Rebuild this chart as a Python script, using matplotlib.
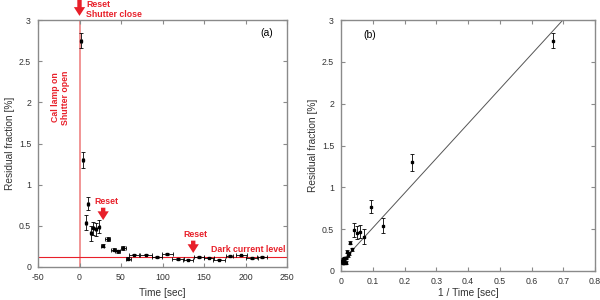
import matplotlib
matplotlib.use("Agg")
import matplotlib.pyplot as plt
import numpy as np

# ---- data (left panel: residual vs time) ----
time_s = [1.5, 4.5, 7.5, 10.6, 13.6, 16.7, 20, 24, 28, 34, 41, 46, 53, 59,
          66, 80, 93, 106, 119, 131, 144, 156, 168, 181, 195, 208, 220]
time_err = [1, 1, 1, 1, 1, 1, 1, 1, 2, 3, 3, 3, 3, 3,
            6, 7, 6, 7, 7, 6, 6, 6, 7, 4, 7, 7, 6]
resid = [2.75, 1.30, 0.54, 0.77, 0.41, 0.47, 0.46, 0.49, 0.26, 0.34, 0.21, 0.19, 0.23, 0.10,
         0.15, 0.15, 0.12, 0.16, 0.10, 0.09, 0.12, 0.115, 0.09, 0.13, 0.14, 0.11, 0.12]
resid_err = [0.09, 0.10, 0.09, 0.08, 0.09, 0.08, 0.08, 0.08, 0.02, 0.02, 0.02, 0.02, 0.02, 0.02,
             0.01, 0.01, 0.01, 0.01, 0.01, 0.01, 0.01, 0.01, 0.01, 0.01, 0.01, 0.01, 0.01]
dark_level = 0.12
fit_intercept = 0.10
fit_slope = 4.15

xticks_a = [-50, 0, 50, 100, 150, 200, 250]
yticks = [0, 0.5, 1, 1.5, 2, 2.5, 3]
yticklabels = ["0", "0.5", "1", "1.5", "2", "2.5", "3"]
xticks_b = [0, 0.1, 0.2, 0.3, 0.4, 0.5, 0.6, 0.7, 0.8]
xticklabels_b = ["0", "0.1", "0.2", "0.3", "0.4", "0.5", "0.6", "0.7", "0.8"]

plt.rcParams["font.family"] = ["Liberation Sans", "DejaVu Sans"]

RED = "#e8202a"
GRAY = "#8a8a8a"
TXT = "#333333"
RFS = 6.3  # red annotation font size

fig = plt.figure(figsize=(6, 3), dpi=100)
axa = fig.add_axes([38/600, 33/300, 249/600, 247/300])
axb = fig.add_axes([341/600, 29/300, 254/600, 251/300])

def style(ax):
    for s in ax.spines.values():
        s.set_color(GRAY)
        s.set_linewidth(1.0)
    ax.tick_params(direction="in", top=True, right=True, length=3, width=0.8,
                   color=GRAY, labelsize=6.3, labelcolor=TXT)
    ax.tick_params(axis="x", pad=4)
    ax.tick_params(axis="y", pad=5)

for ax in (axa, axb):
    style(ax)
    ax.set_ylim(0, 3)
    ax.set_yticks(yticks)
    ax.set_yticklabels(yticklabels)
    ax.set_ylabel("Residual fraction [%]", fontsize=7.3, color=TXT, labelpad=3)

ARW = dict(arrowstyle="simple,head_width=0.9,head_length=0.7,tail_width=0.35",
           color=RED, lw=0, mutation_scale=9, shrinkA=0, shrinkB=0)

# ---- panel (a) ----
axa.set_xlim(-50, 250)
axa.set_xticks(xticks_a)
axa.set_xticklabels([str(v) for v in xticks_a])
axa.set_xlabel("Time [sec]", fontsize=7.3, color=TXT, labelpad=5)
axa.axvline(0, color="#f08c8c", lw=1.3, zorder=1)
axa.axhline(dark_level, color=RED, lw=0.8, zorder=1)
axa.errorbar(time_s, resid, xerr=time_err, yerr=resid_err, fmt="s", ms=1.8,
             color="black", ecolor="black", elinewidth=0.6, capsize=1.5, capthick=0.6, zorder=3)
axa.text(226, 2.84, "(a)", fontsize=7.5, ha="center", va="center")

axa.annotate("", xy=(0, 3.05), xytext=(0, 3.245), arrowprops=ARW, annotation_clip=False)
axa.text(8, 3.245, "Reset\nShutter close", color=RED, fontsize=RFS, fontweight="bold",
         ha="left", va="top", linespacing=1.15, clip_on=False)
axa.text(-23, 2.06, "Cal lamp on\nShutter open", color=RED, fontsize=RFS, fontweight="bold",
         rotation=90, ha="center", va="center", linespacing=1.2)

axa.annotate("", xy=(28.5, 0.57), xytext=(28.5, 0.72), arrowprops=ARW)
axa.text(18, 0.79, "Reset", color=RED, fontsize=RFS, fontweight="bold", ha="left", va="center")
axa.annotate("", xy=(137, 0.17), xytext=(137, 0.32), arrowprops=ARW)
axa.text(140, 0.39, "Reset", color=RED, fontsize=RFS, fontweight="bold", ha="center", va="center")
axa.text(248, 0.21, "Dark current level", color=RED, fontsize=RFS, fontweight="bold",
         ha="right", va="center")

# ---- panel (b) ----
inv_t = [1.0 / t for t in time_s]
axb.set_xlim(0, 0.8)
axb.set_xticks(xticks_b)
axb.set_xticklabels(xticklabels_b)
axb.set_xlabel("1 / Time [sec]", fontsize=7.3, color=TXT, labelpad=1.5)
xf = np.array([0, 0.8])
axb.plot(xf, fit_intercept + fit_slope * xf, color="#555555", lw=0.7, zorder=2)
axb.errorbar(inv_t, resid, yerr=resid_err, fmt="s", ms=1.5, color="black",
             ecolor="black", elinewidth=0.6, capsize=1.5, capthick=0.6, zorder=3)
axb.text(0.091, 2.82, "(b)", fontsize=7.5, ha="center", va="center")

fig.savefig("out.png", dpi=100)
